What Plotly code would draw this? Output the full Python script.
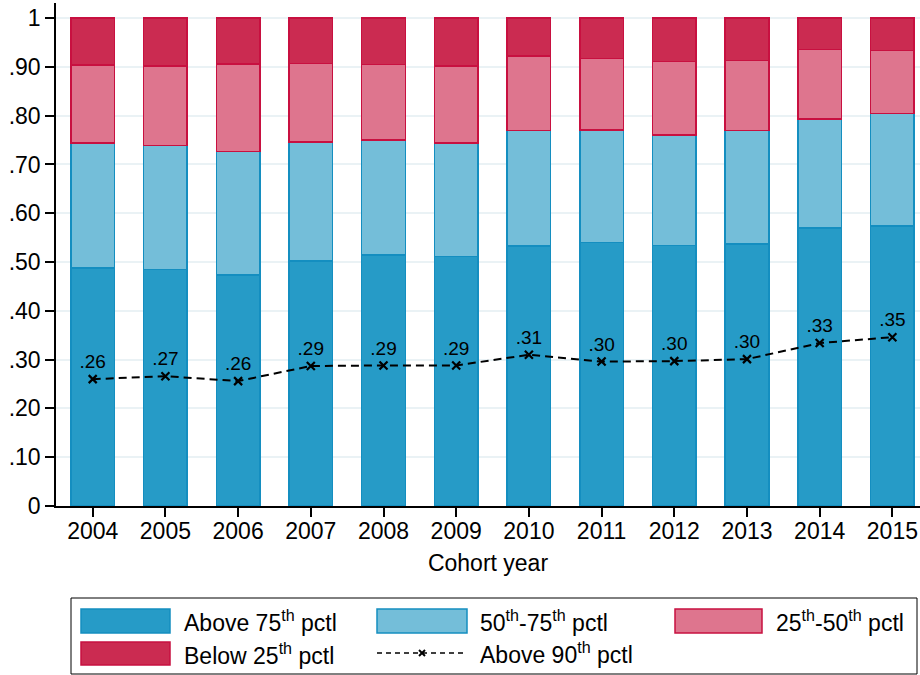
import plotly.graph_objects as go

# ---- data ----
years = [2004, 2005, 2006, 2007, 2008, 2009, 2010, 2011, 2012, 2013, 2014, 2015]
above75 = [0.488, 0.485, 0.473, 0.502, 0.514, 0.511, 0.533, 0.540, 0.534, 0.537, 0.570, 0.574]
p50_75 = [0.256, 0.254, 0.254, 0.244, 0.236, 0.233, 0.237, 0.231, 0.226, 0.233, 0.223, 0.231]
p25_50 = [0.160, 0.163, 0.179, 0.161, 0.155, 0.158, 0.152, 0.146, 0.151, 0.143, 0.143, 0.129]
below25 = [0.096, 0.098, 0.094, 0.093, 0.095, 0.098, 0.078, 0.083, 0.089, 0.087, 0.064, 0.066]
above90 = [0.260, 0.266, 0.256, 0.287, 0.288, 0.288, 0.310, 0.296, 0.297, 0.301, 0.334, 0.346]
ytick_vals = [0, 0.1, 0.2, 0.3, 0.4, 0.5, 0.6, 0.7, 0.8, 0.9, 1.0]
ytick_text = ["0", ".10", ".20", ".30", ".40", ".50", ".60", ".70", ".80", ".90", "1"]
legend_names = ["Above 75<sup>th</sup> pctl", "50<sup>th</sup>-75<sup>th</sup> pctl",
                "25<sup>th</sup>-50<sup>th</sup> pctl", "Below 25<sup>th</sup> pctl",
                "Above 90<sup>th</sup> pctl"]

FONT = "Liberation Sans, Arial, sans-serif"
DARK_BLUE = "rgb(38,155,199)"
LIGHT_BLUE = "rgb(116,190,217)"
PINK = "rgb(222,117,142)"
RED = "rgb(203,43,81)"
BLUE_LINE = "rgb(20,142,192)"
RED_LINE = "rgb(200,16,64)"

fig = go.Figure()
series = [(above75, DARK_BLUE, BLUE_LINE), (p50_75, LIGHT_BLUE, BLUE_LINE),
          (p25_50, PINK, RED_LINE), (below25, RED, RED_LINE)]
for (vals, fill, line), name in zip(series, legend_names[:4]):
    fig.add_trace(go.Bar(x=years, y=vals, name=name, width=0.6,
                         marker=dict(color=fill, line=dict(color=line, width=1.5)),
                         showlegend=False))

labels = [f"{v:.2f}".lstrip("0") for v in above90]
fig.add_trace(go.Scatter(x=years, y=above90, mode="lines+markers+text",
                         text=labels, textposition="top center",
                         textfont=dict(size=19, color="black", family=FONT),
                         line=dict(color="black", width=2, dash="8px,5px"),
                         marker=dict(symbol="x-thin", size=8, color="black",
                                     line=dict(color="black", width=2.2)),
                         showlegend=False))

# plot area in pixels: x 56..920, y 3..506
L, R, T, B = 56, 920, 3, 506
def px(x):
    return (x - L) / (R - L)
def py(y):
    return (B - y) / (B - T)

shapes = []
annotations = []
# legend frame
shapes.append(dict(type="rect", xref="paper", yref="paper", x0=px(71), x1=px(917),
                   y0=py(674), y1=py(598), line=dict(color="black", width=1),
                   fillcolor="white", layer="above"))
swatches = [(81, 170, 609, 633, DARK_BLUE, BLUE_LINE, 184),
            (377, 467, 609, 633, LIGHT_BLUE, BLUE_LINE, 480),
            (675, 762, 609, 633, PINK, RED_LINE, 776),
            (81, 170, 642, 665, RED, RED_LINE, 184)]
for (x0, x1, y0, y1, fill, line, tx), name in zip(swatches, legend_names[:4]):
    shapes.append(dict(type="rect", xref="paper", yref="paper", x0=px(x0), x1=px(x1),
                       y0=py(y1), y1=py(y0), fillcolor=fill,
                       line=dict(color=line, width=1.5), layer="above"))
    annotations.append(dict(xref="paper", yref="paper", x=px(tx), y=py((y0 + y1) / 2),
                            text=name, showarrow=False, xanchor="left", yanchor="middle",
                            xshift=-2,
                            font=dict(size=23, color="black", family=FONT)))
# dashed line legend entry
shapes.append(dict(type="line", xref="paper", yref="paper", x0=px(377), x1=px(467),
                   y0=py(653), y1=py(653), line=dict(color="black", width=1.5, dash="5px,4px"),
                   layer="above"))
for dx in (-1, 1):
    shapes.append(dict(type="line", xref="paper", yref="paper", x0=px(422 - 3), x1=px(422 + 3),
                       y0=py(653 - 3 * dx), y1=py(653 + 3 * dx),
                       line=dict(color="black", width=2), layer="above"))
annotations.append(dict(xref="paper", yref="paper", x=px(480), y=py(653),
                        text=legend_names[4], showarrow=False, xanchor="left",
                        yanchor="middle", xshift=-2,
                        font=dict(size=23, color="black", family=FONT)))

fig.update_layout(
    barmode="stack",
    width=920, height=675,
    margin=dict(l=L, r=920 - R, t=T, b=675 - B),
    plot_bgcolor="white", paper_bgcolor="white",
    font=dict(family=FONT, size=23, color="black"),
    showlegend=False,
    shapes=shapes, annotations=annotations,
    xaxis=dict(range=[2003.495, 2015.38], tickvals=years, ticks="outside", ticklen=9,
               tickwidth=1.5, tickcolor="black", showline=True, linecolor="black",
               linewidth=1.5, showgrid=False, zeroline=False,
               ticklabelstandoff=-5,
               title=dict(text="Cohort year", font=dict(size=23), standoff=12),
               tickfont=dict(size=23)),
    yaxis=dict(range=[0, 1.031], tickvals=ytick_vals, ticktext=ytick_text,
               ticks="outside", ticklen=9, tickwidth=1.5, tickcolor="black",
               showline=True, linecolor="black", linewidth=1.5,
               showgrid=True, gridcolor="rgb(234,242,245)", gridwidth=2,
               zeroline=False, tickfont=dict(size=23)),
)

fig.write_html("out.html", config={"displayModeBar": False},
               post_script="document.body.style.margin='0px';")
